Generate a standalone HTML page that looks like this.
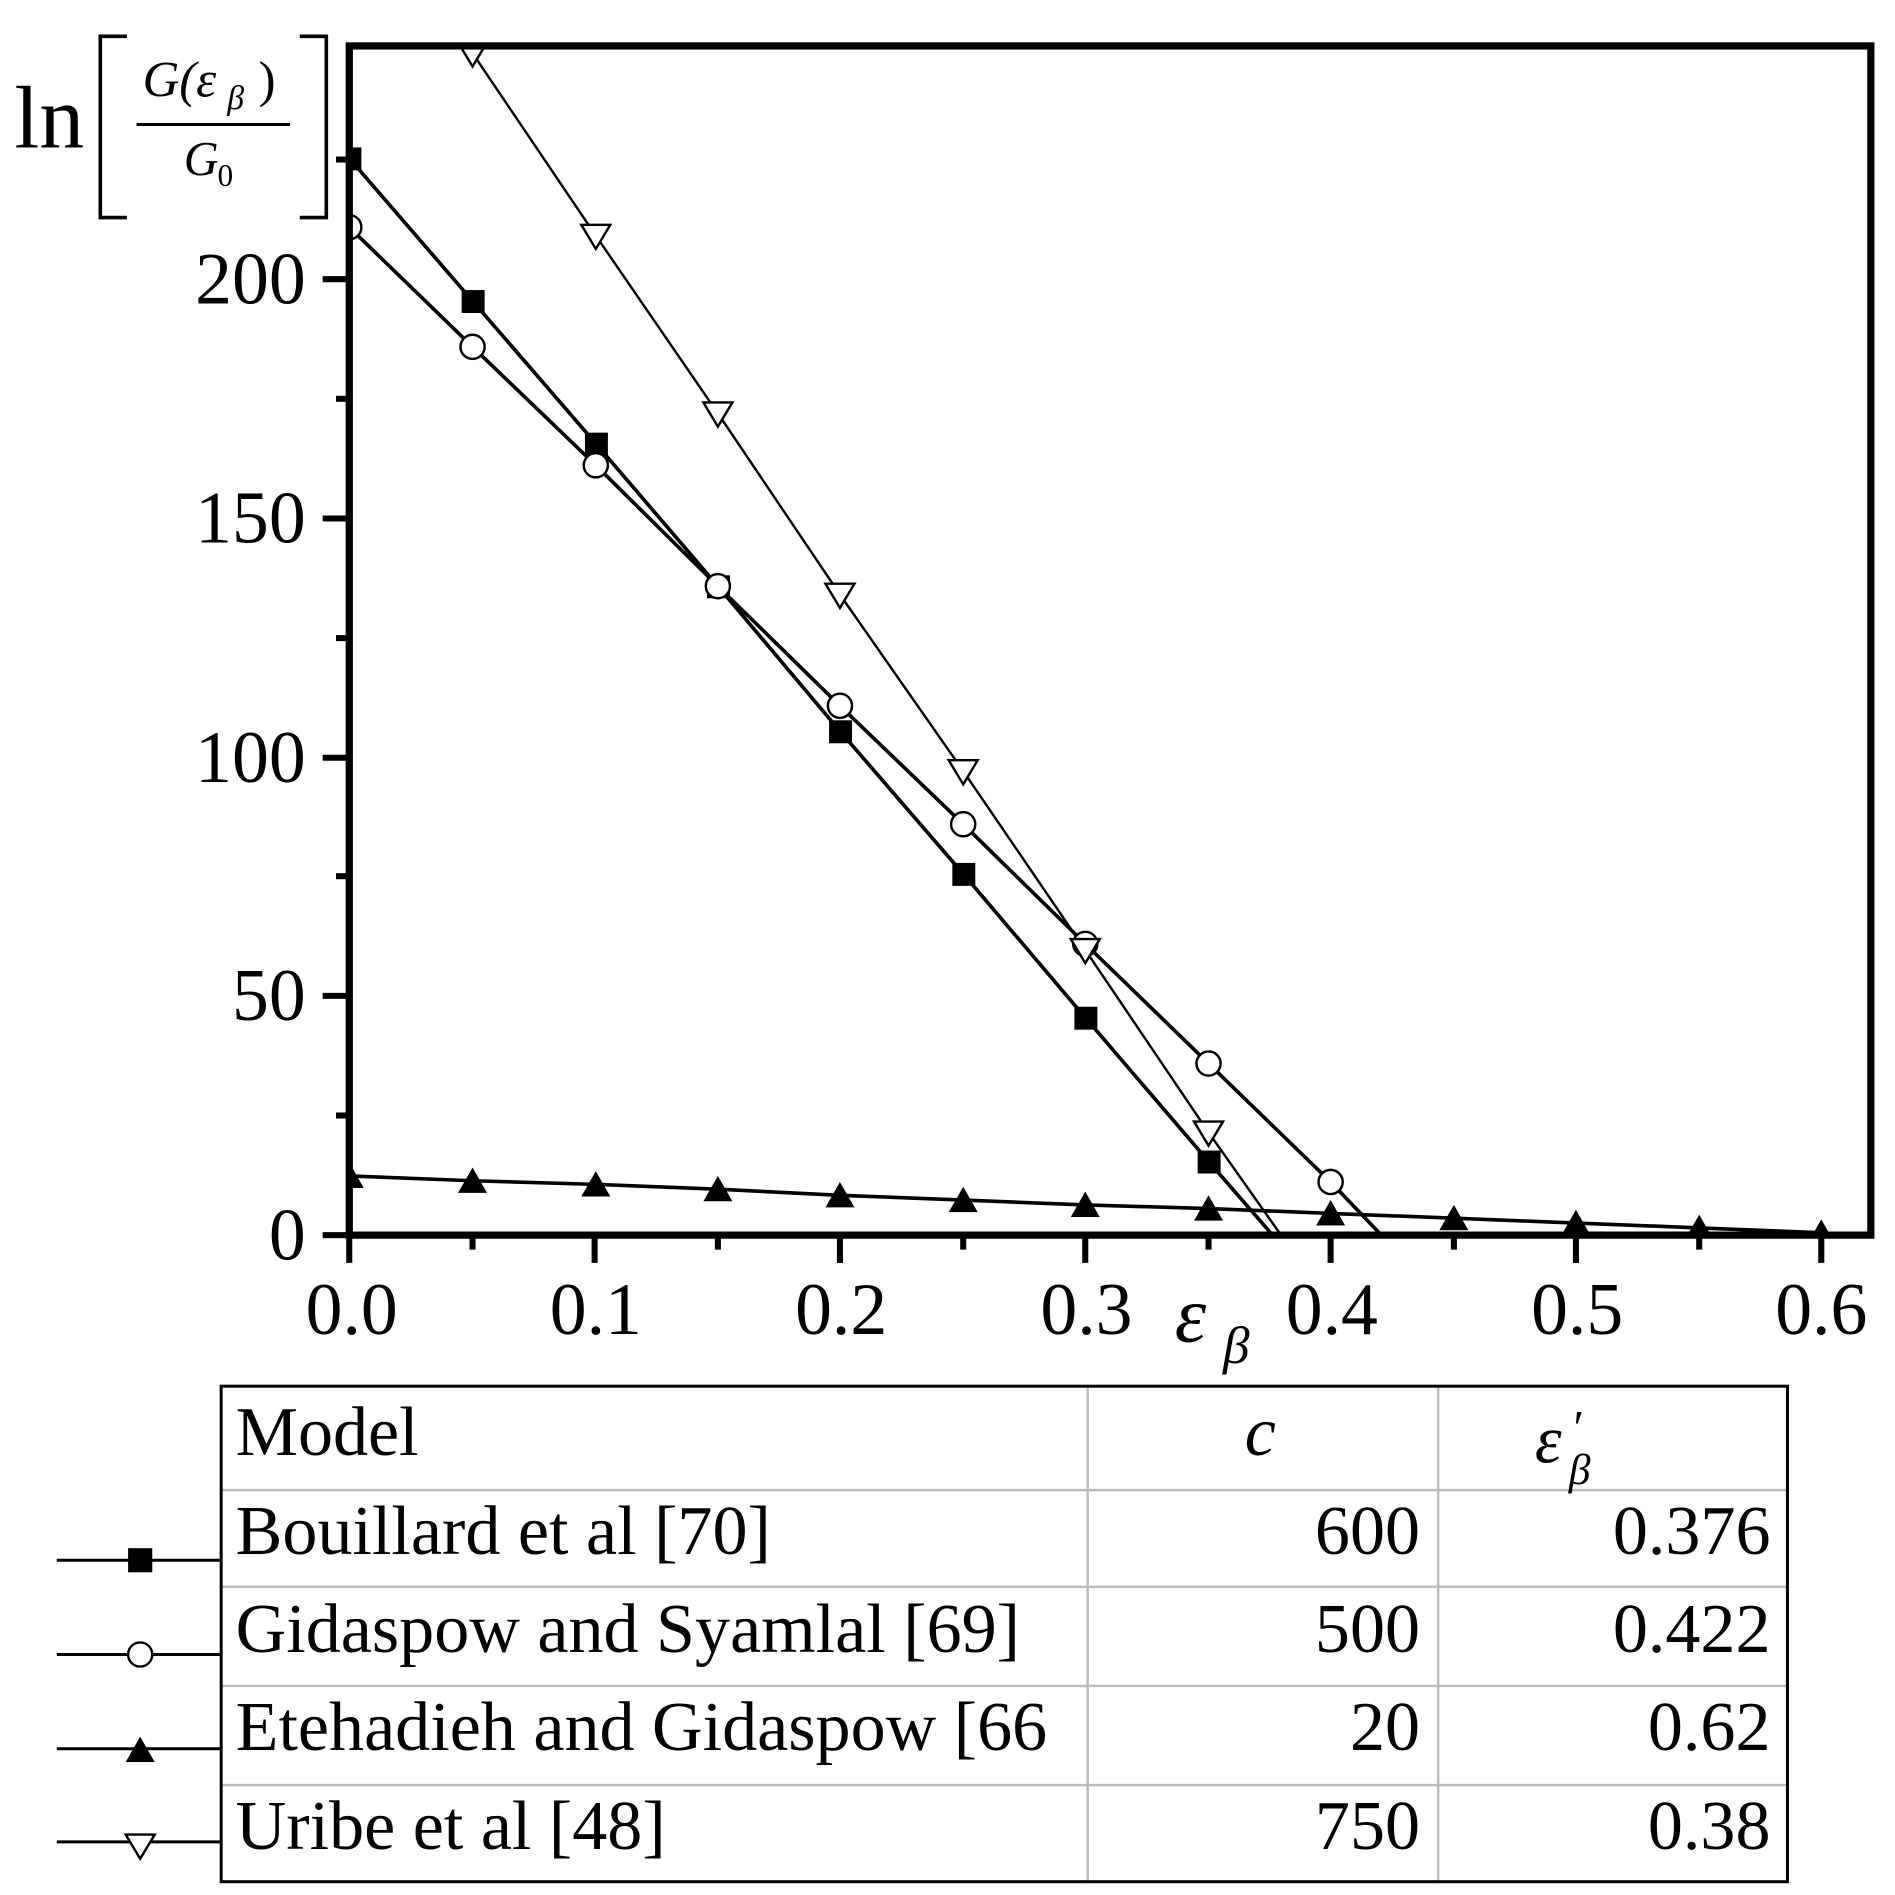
<!DOCTYPE html>
<html><head><style>html,body{margin:0;padding:0;background:#fff}svg{display:block}</style></head><body>
<svg width="1895" height="1895" viewBox="0 0 1568 1568" xmlns="http://www.w3.org/2000/svg" font-family="Liberation Serif, serif">
<defs><clipPath id="c"><rect x="289" y="38" width="1259" height="984"/></clipPath></defs>
<g clip-path="url(#c)" stroke="#000" stroke-width="3" fill="none">
<polyline points="289,131 391,249 493,367 594,485 695,605 797,723 898,842 1000,961 1053,1022"/>
<polyline points="289,188 391,287 493,385 594,485 695,584 797,682 898,781 1000,880 1101,978 1143,1022"/>
<polyline stroke-width="2" points="289,-110 391,44 493,195 594,342 695,492 797,638 898,786 1000,937 1060,1022"/>
<polyline points="289,973 391,977 493,980 594,984 695,989 797,993 898,997 1000,1000 1101,1004 1203,1008 1304,1012 1406,1016 1507,1020"/>
</g>
<g clip-path="url(#c)">
<g fill="#000">
<rect x="280" y="122" width="19" height="19"/><rect x="382" y="240" width="19" height="19"/><rect x="484" y="358" width="19" height="19"/><rect x="585" y="476" width="19" height="19"/><rect x="686" y="596" width="19" height="19"/><rect x="788" y="714" width="19" height="19"/><rect x="889" y="833" width="19" height="19"/><rect x="991" y="952" width="19" height="19"/>
</g>
<g fill="#fff" stroke="#000" stroke-width="2">
<circle cx="289" cy="188" r="10"/><circle cx="391" cy="287" r="10"/><circle cx="493" cy="385" r="10"/><circle cx="594" cy="485" r="10"/><circle cx="695" cy="584" r="10"/><circle cx="797" cy="682" r="10"/><circle cx="898" cy="781" r="10"/><circle cx="1000" cy="880" r="10"/><circle cx="1101" cy="978" r="10"/>
</g>
<g fill="#fff" stroke="#000" stroke-width="2">
<path d="M379,35 h24 l-12,20z"/><path d="M481,186 h24 l-12,20z"/><path d="M582,333 h24 l-12,20z"/><path d="M683,483 h24 l-12,20z"/><path d="M785,629 h24 l-12,20z"/><path d="M886,777 h24 l-12,20z"/><path d="M988,928 h24 l-12,20z"/>
</g>
<g fill="#000">
<path d="M277,983 h24 l-12,-21z"/><path d="M379,987 h24 l-12,-21z"/><path d="M481,990 h24 l-12,-21z"/><path d="M582,994 h24 l-12,-21z"/><path d="M683,999 h24 l-12,-21z"/><path d="M785,1003 h24 l-12,-21z"/><path d="M886,1007 h24 l-12,-21z"/><path d="M988,1010 h24 l-12,-21z"/><path d="M1089,1014 h24 l-12,-21z"/><path d="M1191,1018 h24 l-12,-21z"/><path d="M1292,1022 h24 l-12,-21z"/><path d="M1394,1026 h24 l-12,-21z"/><path d="M1495,1030 h24 l-12,-21z"/>
</g>
</g>
<rect x="289" y="38" width="1259" height="984" fill="none" stroke="#000" stroke-width="6"/>
<g stroke="#000" stroke-width="5">
<line x1="289" y1="1022" x2="289" y2="1045"/><line x1="492" y1="1022" x2="492" y2="1045"/><line x1="695" y1="1022" x2="695" y2="1045"/><line x1="898" y1="1022" x2="898" y2="1045"/><line x1="1101" y1="1022" x2="1101" y2="1045"/><line x1="1304" y1="1022" x2="1304" y2="1045"/><line x1="1507" y1="1022" x2="1507" y2="1045"/>
<line x1="391" y1="1022" x2="391" y2="1034"/><line x1="594" y1="1022" x2="594" y2="1034"/><line x1="797" y1="1022" x2="797" y2="1034"/><line x1="1000" y1="1022" x2="1000" y2="1034"/><line x1="1203" y1="1022" x2="1203" y2="1034"/><line x1="1406" y1="1022" x2="1406" y2="1034"/>
<line x1="267" y1="1022" x2="289" y2="1022"/><line x1="267" y1="824" x2="289" y2="824"/><line x1="267" y1="627" x2="289" y2="627"/><line x1="267" y1="429" x2="289" y2="429"/><line x1="267" y1="231" x2="289" y2="231"/>
<line x1="278" y1="923" x2="289" y2="923"/><line x1="278" y1="725" x2="289" y2="725"/><line x1="278" y1="528" x2="289" y2="528"/><line x1="278" y1="330" x2="289" y2="330"/><line x1="278" y1="132" x2="289" y2="132"/>
</g>
<g font-size="61" text-anchor="end">
<text x="253" y="1042">0</text><text x="253" y="844">50</text><text x="253" y="647">100</text><text x="253" y="449">150</text><text x="253" y="251">200</text>
</g>
<g font-size="61" text-anchor="middle">
<text x="291" y="1104">0.0</text><text x="493" y="1104">0.1</text><text x="696" y="1104">0.2</text><text x="899" y="1104">0.3</text><text x="1102" y="1104">0.4</text><text x="1305" y="1104">0.5</text><text x="1507" y="1104">0.6</text>
</g>
<text x="972" y="1110" font-size="66" font-style="italic">ε</text><text x="1012" y="1128" font-size="44" font-style="italic">β</text>
<text x="12" y="122" font-size="74">ln</text>
<path d="M105,30 H83 V180 H105 M248,30 H270 V180 H248" fill="none" stroke="#000" stroke-width="3"/>
<line x1="113" y1="103" x2="240" y2="103" stroke="#000" stroke-width="2.5"/>
<text x="118" y="80" font-size="42" font-style="italic">G(ε</text><text x="188" y="90" font-size="28" font-style="italic">β</text><text x="214" y="80" font-size="42">)</text>
<text x="152" y="145" font-size="40" font-style="italic">G</text><text x="180" y="154" font-size="26">0</text>
<g stroke="#bbb" stroke-width="2">
<line x1="183" y1="1233" x2="1479" y2="1233"/><line x1="183" y1="1313" x2="1479" y2="1313"/><line x1="183" y1="1395" x2="1479" y2="1395"/><line x1="183" y1="1477" x2="1479" y2="1477"/>
<line x1="900" y1="1147" x2="900" y2="1557"/><line x1="1190" y1="1147" x2="1190" y2="1557"/>
</g>
<rect x="183" y="1147" width="1296" height="410" fill="none" stroke="#000" stroke-width="2.5"/>
<g font-size="58">
<text x="195" y="1204">Model</text>
<text x="195" y="1286">Bouillard et al [70]</text>
<text x="195" y="1367">Gidaspow and Syamlal [69]</text>
<text x="195" y="1448">Etehadieh and Gidaspow [66</text>
<text x="195" y="1530">Uribe et al [48]</text>
</g>
<text x="1030" y="1204" font-size="58" font-style="italic">c</text>
<text x="1270" y="1210" font-size="56" font-style="italic">ε</text><text x="1302" y="1195" font-size="40">′</text><text x="1298" y="1228" font-size="36" font-style="italic">β</text>
<g font-size="58" text-anchor="end">
<text x="1175" y="1286">600</text><text x="1175" y="1367">500</text><text x="1175" y="1448">20</text><text x="1175" y="1530">750</text>
<text x="1465" y="1286">0.376</text><text x="1465" y="1367">0.422</text><text x="1465" y="1448">0.62</text><text x="1465" y="1530">0.38</text>
</g>
<g stroke="#000" stroke-width="2.5">
<line x1="47" y1="1291" x2="183" y2="1291"/><line x1="47" y1="1369" x2="183" y2="1369"/><line x1="47" y1="1447" x2="183" y2="1447"/><line x1="47" y1="1524" x2="183" y2="1524"/>
</g>
<rect x="106" y="1281" width="20" height="20" fill="#000"/>
<circle cx="116" cy="1369" r="10" fill="#fff" stroke="#000" stroke-width="2"/>
<path d="M104,1458 h24 l-12,-21z" fill="#000"/>
<path d="M104,1518 h24 l-12,20z" fill="#fff" stroke="#000" stroke-width="2"/>
</svg>
</body></html>
